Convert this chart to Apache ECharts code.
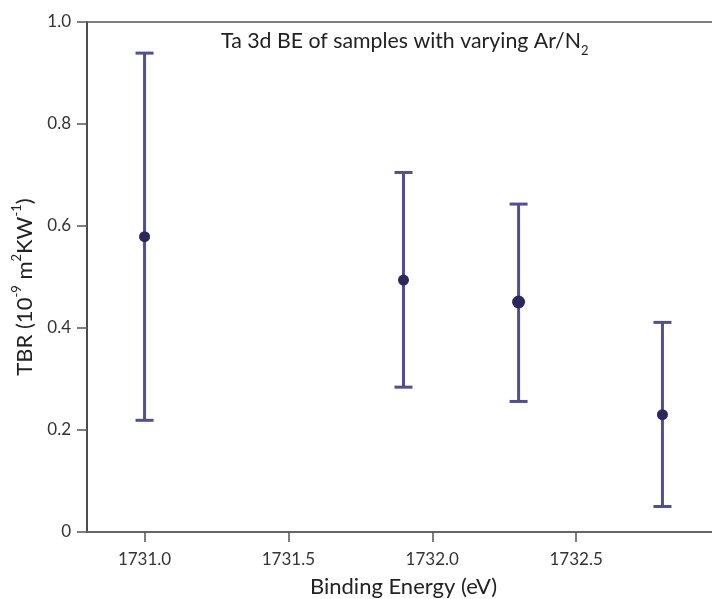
<!DOCTYPE html>
<html>
<head>
<meta charset="utf-8">
<script src="https://cdn.jsdelivr.net/npm/echarts@6/dist/echarts.min.js"></script>
<style>
html,body{margin:0;padding:0;background:#fff;}
#chart{width:712px;height:599px;}
</style>
</head>
<body>
<div id="chart"></div>
<script>
// ---- data ----
const bindingEnergy = [1731.0, 1731.9, 1732.3, 1732.8];
const tbrMean = [0.579, 0.494, 0.451, 0.230];
const tbrLow = [0.219, 0.284, 0.256, 0.050];
const tbrHigh = [0.939, 0.705, 0.643, 0.411];
const xTickValues = [1731.0, 1731.5, 1732.0, 1732.5];
const yTickValues = [0, 0.2, 0.4, 0.6, 0.8, 1.0];

// ---- styles ----
const barColor = '#524e93';
const dotColor = '#2c285e';
const markerRadius = [5.5, 5.5, 6.5, 5.5];
const FONT = 'Lato';

const seriesData = bindingEnergy.map((x, i) => [x, tbrMean[i], tbrLow[i], tbrHigh[i]]);

const chart = echarts.init(document.getElementById('chart'), null, {renderer: 'canvas'});
chart.setOption({
  animation: false,
  backgroundColor: '#ffffff',
  title: {
    text: '{m|Ta 3d BE of samples with varying Ar/N}{s|2}',
    left: 216,
    top: 23,
    textStyle: {
      fontWeight: 'normal',
      rich: {
        m: {fontFamily: FONT, fontSize: 21.3, fontWeight: 'normal', color: '#222222', lineHeight: 24, verticalAlign: 'bottom'},
        s: {fontFamily: FONT, fontSize: 13, fontWeight: 'normal', color: '#222222', lineHeight: 13, verticalAlign: 'bottom', padding: [0, 0, -5, 0]}
      }
    }
  },
  grid: {left: 87, top: 22, right: -8, bottom: 67, containLabel: false, outerBoundsMode: 'none'},
  xAxis: [{
    type: 'value',
    min: 1730.8,
    max: 1733.0,
    name: 'Binding Energy (eV)',
    nameLocation: 'middle',
    nameGap: 44,
    nameTextStyle: {fontFamily: FONT, fontSize: 22, color: '#222222'},
    splitLine: {show: false},
    axisLine: {show: true, onZero: false, lineStyle: {color: '#666666', width: 2}},
    axisTick: {show: true, length: 10, customValues: xTickValues, lineStyle: {color: '#555555', width: 1.5}},
    axisLabel: {customValues: xTickValues, margin: 19, fontFamily: FONT, fontSize: 17, color: '#333333',
      formatter: v => v.toFixed(1)}
  }, {
    type: 'value',
    position: 'top',
    min: 1730.8,
    max: 1733.0,
    axisLine: {show: true, onZero: false, lineStyle: {color: '#555555', width: 1.5}},
    axisTick: {show: false},
    axisLabel: {show: false},
    splitLine: {show: false}
  }],
  yAxis: {
    type: 'value',
    min: 0,
    max: 1,
    interval: 0.2,
    name: '{t|TBR (10}{p|-9}{t| m}{p|2}{t|KW}{p|-1}{t|)}',
    nameLocation: 'middle',
    nameGap: 50,
    nameRotate: 90,
    nameTextStyle: {
      padding: [0, 20, 0, 0],
      rich: {
        t: {fontFamily: FONT, fontSize: 22, color: '#222222', lineHeight: 26, verticalAlign: 'bottom'},
        p: {fontFamily: FONT, fontSize: 13, color: '#222222', lineHeight: 13, verticalAlign: 'top'}
      }
    },
    splitLine: {show: false},
    axisLine: {show: true, onZero: false, lineStyle: {color: '#111111', width: 1.5}},
    axisTick: {show: true, length: 10, lineStyle: {color: '#555555', width: 1.5}},
    axisLabel: {margin: 16, fontFamily: FONT, fontSize: 17, color: '#333333',
      formatter: v => (v === 0 ? '0' : v.toFixed(1))}
  },
  series: [{
    type: 'custom',
    clip: false,
    encode: {x: 0, y: [1, 2, 3]},
    data: seriesData,
    renderItem: (params, api) => {
      const x = api.value(0);
      const mid = api.coord([x, api.value(1)]);
      const bot = api.coord([x, api.value(2)]);
      const top = api.coord([x, api.value(3)]);
      const half = 9;
      return {
        type: 'group',
        children: [
          {type: 'line', shape: {x1: top[0], y1: top[1], x2: bot[0], y2: bot[1]}, style: {stroke: barColor, lineWidth: 3}},
          {type: 'line', shape: {x1: top[0] - half, y1: top[1], x2: top[0] + half, y2: top[1]}, style: {stroke: barColor, lineWidth: 3}},
          {type: 'line', shape: {x1: bot[0] - half, y1: bot[1], x2: bot[0] + half, y2: bot[1]}, style: {stroke: barColor, lineWidth: 3}},
          {type: 'circle', shape: {cx: mid[0], cy: mid[1], r: markerRadius[params.dataIndex]}, style: {fill: dotColor}}
        ]
      };
    }
  }]
});
</script>
</body>
</html>
